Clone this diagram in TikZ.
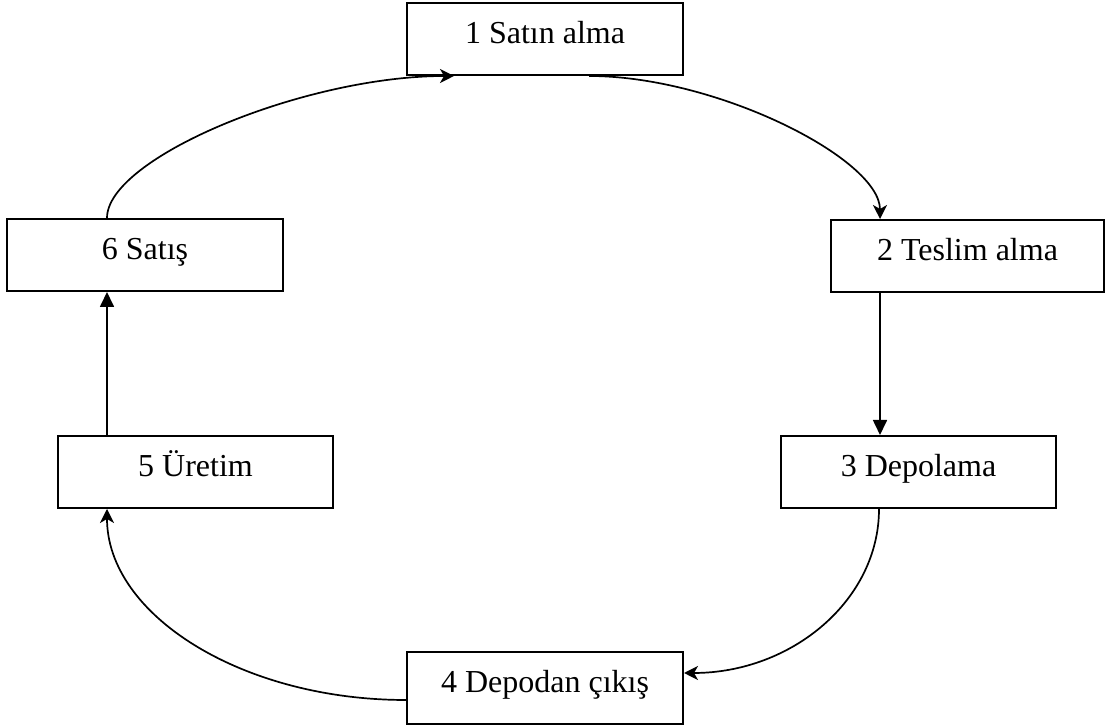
\documentclass[tikz,border=0pt]{standalone}
\usepackage{fontspec}
\setmainfont{Liberation Serif}
\usetikzlibrary{arrows.meta}
\tikzset{
  stagebox/.style={draw, line width=2pt, minimum width=275pt, minimum height=72pt,
    inner sep=0pt, font=\fontsize{32}{38}\selectfont, text height=21pt, text depth=11pt},
  straightarrow/.style={line width=1.7pt, -{Triangle[length=15pt,width=14pt]}},
  curvearrow/.style={line width=1.7pt, -{Stealth[length=14pt,width=14pt,inset=4pt]}}
}
\begin{document}
\begin{tikzpicture}[x=1pt,y=1pt]
\useasboundingbox (0,0) rectangle (1105,727);
\node[stagebox, minimum width=276pt] (n1) at (545,688) {1 Satın alma};
\node[stagebox, minimum width=273pt] (n2) at (967.5,471) {2 Teslim alma};
\node[stagebox] (n3) at (918.5,255) {3 Depolama};
\node[stagebox, minimum width=276pt] (n4) at (545,39) {4 Depodan çıkış};
\node[stagebox] (n5) at (195.5,255) {5 Üretim};
\node[stagebox, minimum width=276pt] (n6) at (145,472) {6 Satış};
% 6 -> 1
\draw[curvearrow] ([xshift=101pt]n6.north west) .. controls +(0,60) and +(-150,0) .. ([xshift=48pt]n1.south west);
% 1 -> 2
\draw[curvearrow] ([xshift=183pt]n1.south west) .. controls +(128,0) and +(0,60) .. ([xshift=50pt]n2.north west);
% 2 -> 3
\draw[straightarrow] ([xshift=50pt]n2.south west) -- ([xshift=100pt]n3.north west);
% 3 -> 4
\draw[curvearrow] ([xshift=99pt]n3.south west) .. controls +(0,-91) and +(108,0) .. ([yshift=15pt]n4.east);
% 4 -> 5
\draw[curvearrow] ([yshift=-12pt]n4.west) .. controls +(-164,0) and +(0,-106) .. ([xshift=50pt]n5.south west);
% 5 -> 6
\draw[straightarrow] ([xshift=50pt]n5.north west) -- ([xshift=101pt]n6.south west);
\end{tikzpicture}
\end{document}
